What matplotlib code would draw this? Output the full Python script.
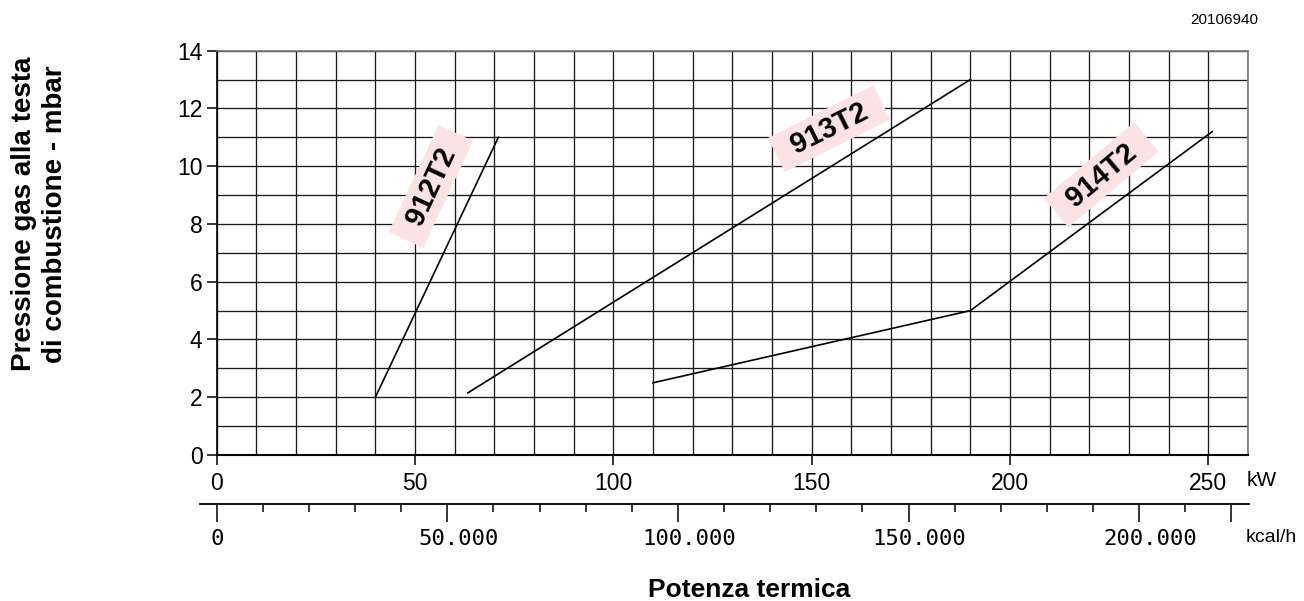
import matplotlib
matplotlib.use("Agg")
import matplotlib.pyplot as plt
import matplotlib.transforms as mtransforms
from matplotlib.patches import Rectangle

plt.rcParams['font.family'] = ['Liberation Sans', 'DejaVu Sans']

# ---------------- data ----------------
models = ['912T2', '913T2', '914T2']
kw_912 = [40.0, 71.0]
mbar_912 = [2.0, 11.0]
kw_913 = [63.3, 190.0]
mbar_913 = [2.15, 13.0]
kw_914 = [110.0, 190.0, 251.0]
mbar_914 = [2.5, 5.0, 11.2]

label_kw = [54.0, 154.4, 223.0]
label_mbar = [9.3, 11.3, 9.7]
label_angle = [65, 26.5, 40]

kw_ticks = [0, 50, 100, 150, 200, 250]
y_ticks = [0, 2, 4, 6, 8, 10, 12, 14]
kcal_major = [0, 50000, 100000, 150000, 200000, 220000]
kcal_labels = ['0', '50.000', '100.000', '150.000', '200.000', '']
kcal_minor = [10000, 20000, 30000, 40000, 60000, 70000, 80000, 90000,
              110000, 120000, 130000, 140000, 160000, 170000, 180000, 190000, 210000]
KCAL_PER_KW = 860.0

# ---------------- figure ----------------
W, H = 1304, 601
fig = plt.figure(figsize=(W / 100, H / 100), dpi=100)

left_px, right_px, top_px, bot_px = 216.7, 1248.0, 50.7, 455.0
ax = fig.add_axes([left_px / W, 1 - bot_px / H, (right_px - left_px) / W, (bot_px - top_px) / H])
ax.set_xlim(0, 260)
ax.set_ylim(0, 14)

ax.set_xticks(kw_ticks)
ax.set_xticks(range(0, 261, 10), minor=True)
ax.set_yticks(y_ticks)
ax.set_yticks(range(0, 15, 1), minor=True)
ax.tick_params(which='major', direction='out', length=7.2, width=1.1, labelsize=16.5, color='black')
ax.tick_params(axis='x', which='major', pad=5)
ax.tick_params(axis='y', which='major', pad=3)
ax.tick_params(which='minor', length=0)
ax.set_axisbelow(True)
ax.grid(which='both', color='#1a1a1a', linewidth=0.95)

ax.spines['left'].set_linewidth(1.2)
ax.spines['left'].set_color('black')
ax.spines['bottom'].set_linewidth(1.5)
ax.spines['bottom'].set_color('black')
for s in ['top', 'right']:
    ax.spines[s].set_linewidth(1.2)
    ax.spines[s].set_color('#777777')

# curves
ax.plot(kw_912, mbar_912, color='black', lw=1.2, zorder=3)
ax.plot(kw_913, mbar_913, color='black', lw=1.2, zorder=3)
ax.plot(kw_914, mbar_914, color='black', lw=1.2, zorder=3)

# labels with pink rotated boxes
box_w, box_h = 118, 38  # pixels
for name, xk, ym, ang in zip(models, label_kw, label_mbar, label_angle):
    tr = mtransforms.Affine2D().rotate_deg(ang) + mtransforms.ScaledTranslation(xk, ym, ax.transData)
    rect = Rectangle((-box_w / 2, -box_h / 2), box_w, box_h, facecolor='#fce3e3',
                     edgecolor='none', transform=tr, zorder=2, clip_on=False)
    ax.add_patch(rect)
    ax.text(xk, ym, name, rotation=ang, rotation_mode='anchor', ha='center', va='center',
            fontsize=21, fontweight='bold', color='black', zorder=4)

# kcal/h axis
k_left_px, k_right_px, k_y_px = 200.0, 1249.0, 504.0
ax2 = fig.add_axes([k_left_px / W, 1 - k_y_px / H, (k_right_px - k_left_px) / W, 0.0001])
px_per_kw = (right_px - left_px) / 260.0
kw_lo = (k_left_px - left_px) / px_per_kw
kw_hi = (k_right_px - left_px) / px_per_kw
ax2.set_xlim(kw_lo * KCAL_PER_KW, kw_hi * KCAL_PER_KW)
ax2.set_yticks([])
for s in ['left', 'right', 'top']:
    ax2.spines[s].set_visible(False)
ax2.spines['bottom'].set_linewidth(1.3)
ax2.patch.set_visible(False)
ax2.set_xticks(kcal_major)
ax2.set_xticklabels(kcal_labels, fontsize=16, family=['DejaVu Sans Mono'])
ax2.set_xticks(kcal_minor, minor=True)
ax2.tick_params(axis='x', which='major', direction='out', length=12.7, width=1.1, pad=5)
ax2.tick_params(axis='x', which='minor', direction='out', length=5.5, width=1.1)
offset = mtransforms.ScaledTranslation(0.11, 0, fig.dpi_scale_trans)
for lab in ax2.get_xticklabels()[1:]:
    lab.set_transform(lab.get_transform() + offset)

# unit labels
fig.text(1247.0 / W, 1 - 480 / H, 'kW', ha='left', va='center', fontsize=15)
fig.text(1246.0 / W, 1 - 537 / H, 'kcal/h', ha='left', va='center', fontsize=14)

# axis titles
fig.text(40 / W, 1 - 214 / H, 'Pressione gas alla testa\ndi combustione - mbar', rotation=90,
         ha='center', va='center', fontsize=20, fontweight='bold', linespacing=1.25, multialignment='center')
fig.text(749 / W, 1 - 596.7 / H, 'Potenza termica', ha='center', va='baseline',
         fontsize=19, fontweight='bold')
fig.text(1258 / W, 1 - 20 / H, '20106940', ha='right', va='center', fontsize=11)

fig.savefig('out.png', dpi=100)
